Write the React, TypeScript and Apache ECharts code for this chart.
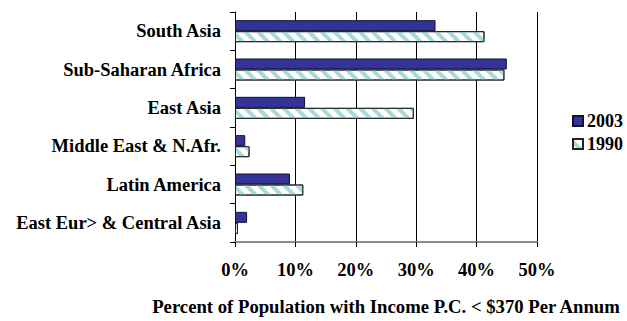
import React, { useEffect, useRef } from "react";
import * as echarts from "echarts";

const regions = [
  "South Asia",
  "Sub-Saharan Africa",
  "East Asia",
  "Middle East & N.Afr.",
  "Latin America",
  "East Eur> & Central Asia",
];
const values2003 = [33.2, 45.0, 11.6, 1.7, 9.1, 2.0];
const values1990 = [41.3, 44.6, 29.6, 2.4, 11.3, 0.5];
const seriesNames = ["2003", "1990"];
const xTicks = [0, 10, 20, 30, 40, 50];
const xTitle = "Percent of Population with Income P.C. < $370 Per Annum";

const FONT = "Liberation Serif";

export default function App() {
  const ref = useRef<HTMLDivElement>(null);

  useEffect(() => {
    document.body.style.margin = "0";
    if (!ref.current) return;
    const chart = echarts.init(ref.current, undefined, { renderer: "svg" });
    chart.setOption({
      animation: false,
      backgroundColor: "#ffffff",
      textStyle: { fontFamily: FONT },
      grid: { left: 235, right: 90, top: 12, bottom: 69, containLabel: false },
      legend: {
        orient: "vertical",
        left: 572,
        top: 112,
        padding: 0,
        icon: "rect",
        itemWidth: 10,
        itemHeight: 10,
        itemGap: 5,
        data: seriesNames,
        textStyle: {
          fontFamily: FONT,
          fontWeight: "bold",
          fontSize: 18,
          color: "#000",
          padding: [0, 0, 0, -1],
        },
      },
      xAxis: {
        type: "value",
        min: xTicks[0],
        max: xTicks[xTicks.length - 1],
        interval: 10,
        name: xTitle,
        nameLocation: "middle",
        nameGap: 55,
        nameTextStyle: { fontFamily: FONT, fontWeight: "bold", fontSize: 18.7, color: "#000" },
        axisLine: { show: true, lineStyle: { color: "#8c8c8c", width: 2 } },
        axisTick: { show: true, length: 5, lineStyle: { color: "#000" } },
        axisLabel: {
          formatter: "{value}%",
          fontFamily: FONT,
          fontWeight: "bold",
          fontSize: 18.5,
          color: "#000",
          margin: 18,
        },
        splitLine: { show: true, lineStyle: { color: "#000", width: 1 } },
      },
      yAxis: {
        type: "category",
        data: regions,
        inverse: true,
        axisLine: { show: true, lineStyle: { color: "#000", width: 1 } },
        axisTick: { show: true, length: 5, inside: false, lineStyle: { color: "#000" } },
        axisLabel: {
          fontFamily: FONT,
          fontWeight: "bold",
          fontSize: 18.5,
          color: "#000",
          margin: 14,
        },
        splitLine: { show: false },
      },
      series: [
        {
          name: seriesNames[0],
          type: "bar",
          data: values2003,
          barWidth: 11,
          barGap: "0%",
          itemStyle: { color: "#333399", borderColor: "#111133", borderWidth: 1 },
        },
        {
          name: seriesNames[1],
          type: "bar",
          data: values1990,
          barWidth: 11,
          barGap: "0%",
          itemStyle: {
            color: "#ffffff",
            borderColor: "#222222",
            borderWidth: 1,
            decal: {
              symbol: "rect",
              symbolSize: 1,
              color: "#a9dada",
              backgroundColor: "#ffffff",
              dashArrayX: [1, 0],
              dashArrayY: [4, 5],
              rotation: Math.PI / 4,
            },
          },
        },
      ],
    });
    return () => chart.dispose();
  }, []);

  return <div ref={ref} style={{ width: 627, height: 321 }} />;
}
